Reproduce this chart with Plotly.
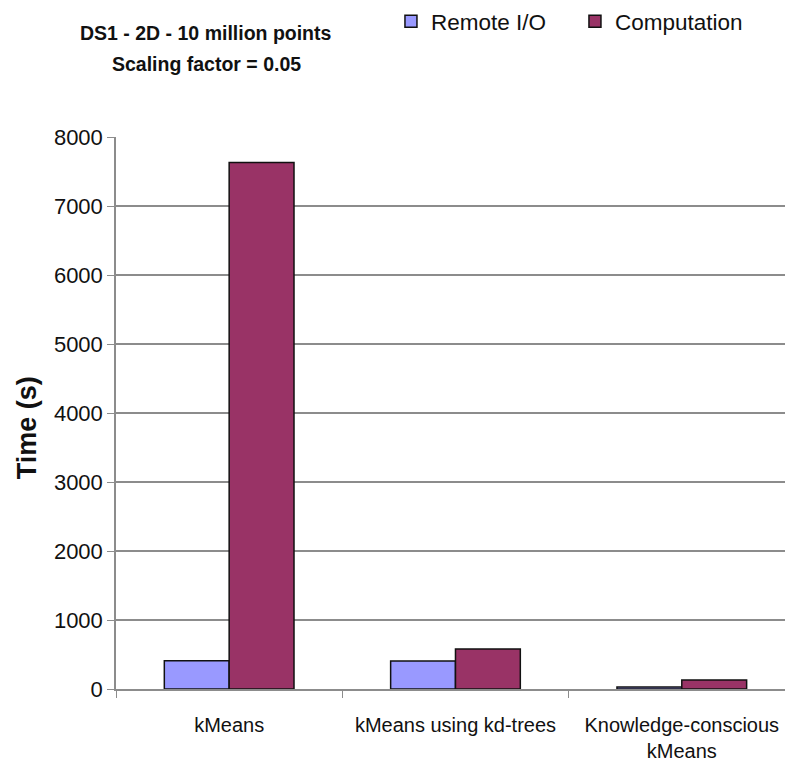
import plotly.graph_objects as go

# Clustering run times for dataset DS1 (2D, 10 million points)
categories = ["kMeans", "kMeans using kd-trees", "Knowledge-conscious<br>kMeans"]
remote_io = [410, 405, 30]
computation = [7630, 580, 130]
y_ticks = [0, 1000, 2000, 3000, 4000, 5000, 6000, 7000, 8000]

FONT = "Liberation Sans, Arial, sans-serif"
GRID = "#8c8c8c"

fig = go.Figure()
fig.add_trace(go.Bar(
    name="Remote I/O", x=categories, y=remote_io,
    marker=dict(color="#9999FF", line=dict(color="#111111", width=1.5)),
))
fig.add_trace(go.Bar(
    name="Computation", x=categories, y=computation,
    marker=dict(color="#993366", line=dict(color="#111111", width=1.5)),
))

fig.update_layout(
    width=785, height=766,
    margin=dict(l=116, r=0, t=136, b=77),
    paper_bgcolor="white", plot_bgcolor="white",
    barmode="group", bargap=0.427, bargroupgap=0,
    font=dict(family=FONT, color="#111111"),
    showlegend=True,
    legend=dict(
        orientation="h", x=0.411, y=1.2085, xanchor="left", yanchor="middle",
        font=dict(size=22.5, family=FONT, color="#111111"),
        entrywidth=139, entrywidthmode="pixels",
        bgcolor="rgba(0,0,0,0)",
    ),
    xaxis=dict(
        type="category", range=[-0.5, 2.456],
        showline=True, linecolor=GRID, linewidth=1.5,
        ticks="outside", tickson="boundaries", ticklen=7, tickcolor=GRID, tickwidth=1.2,
        ticklabelstandoff=17,
        tickfont=dict(size=20, family=FONT, color="#111111"),
        showgrid=False, zeroline=False,
    ),
    yaxis=dict(
        range=[0, 8000], tickvals=y_ticks,
        showline=True, linecolor=GRID, linewidth=1.5,
        ticks="outside", ticklen=7, tickcolor=GRID, tickwidth=1.2,
        tickfont=dict(size=22, family=FONT, color="#111111"),
        showgrid=True, gridcolor=GRID, gridwidth=1.5,
        zeroline=False,
    ),
    annotations=[
        dict(text="<b>Time (s)</b>", textangle=-90, xref="paper", yref="paper",
             x=(27 - 116) / 669, y=(689.3 - 428) / 553, xanchor="center", yanchor="middle",
             showarrow=False, font=dict(size=27, family=FONT, color="#111111")),
        dict(text="<b>DS1 - 2D - 10 million points</b>", xref="paper", yref="paper",
             x=(206 - 116) / 669, y=(689.3 - 32) / 553, xanchor="center", yanchor="middle",
             showarrow=False, font=dict(size=19.5, family=FONT, color="#111111")),
        dict(text="<b>Scaling factor = 0.05</b>", xref="paper", yref="paper",
             x=(206 - 116) / 669, y=(689.3 - 63) / 553, xanchor="center", yanchor="middle",
             showarrow=False, font=dict(size=19.5, family=FONT, color="#111111")),
    ],
)

fig.write_html("out.html")
